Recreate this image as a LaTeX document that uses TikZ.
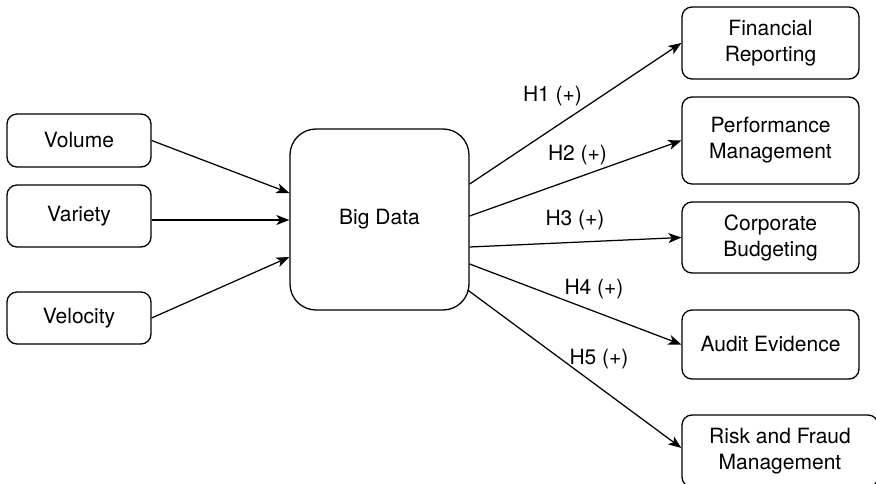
\documentclass[tikz,border=0pt]{standalone}
\usepackage{fontspec}
\setmainfont{TeX Gyre Heros}
\usetikzlibrary{arrows.meta,calc}
\begin{document}
\begin{tikzpicture}[x=1pt,y=-1pt,
  box/.style={draw, line width=1.3pt, rounded corners=10pt, inner sep=0pt,
    align=center, font=\fontsize{21}{26}\selectfont},
  link/.style={line width=1.25pt, -{Stealth[length=13pt,width=10pt,inset=3.5pt]}},
  hyp/.style={font=\fontsize{21}{26}\selectfont, inner sep=0pt}]
\useasboundingbox (0,0) rectangle (876,484);
\clip (0,0) rectangle (876,484);

% the three V's
\node[box, minimum width=144pt, minimum height=53pt] (vol) at (79,140.5) {Volume};
\node[box, minimum width=144pt, minimum height=62pt] (var) at (79,216) {Variety};
\node[box, minimum width=144pt, minimum height=52pt] (vel) at (79,318) {Velocity};

% central construct
\node[box, rounded corners=26pt, minimum width=179pt, minimum height=181pt] (bd) at (379.5,219.5) {Big Data};

% outcomes
\node[box, minimum width=177pt, minimum height=72pt] (fr) at (770.5,43) {Financial\\Reporting};
\node[box, minimum width=177pt, minimum height=87pt] (pm) at (770.5,140.5) {Performance\\Management};
\node[box, minimum width=177pt, minimum height=71pt] (cb) at (770.5,237.5) {Corporate\\Budgeting};
\node[box, minimum width=177pt, minimum height=69pt] (ae) at (770.5,344.5) {Audit Evidence};
\node[box, minimum width=196pt, minimum height=72pt] (rf) at (780,451) {Risk and Fraud\\Management};

% inputs
\draw[link] (vol.east) -- (bd.west |- 0,193);
\draw[link] (var.east |- 0,220) -- (bd.west |- 0,220);
\draw[link] (vel.east) -- (bd.west |- 0,257);

% hypotheses
\draw[link] (bd.east |- 0,184) -- (fr.west);
\draw[link] (bd.east |- 0,216) -- (pm.west);
\draw[link] (bd.east |- 0,247) -- (cb.west);
\draw[link] (bd.east |- 0,264) -- (ae.west);
\draw[link] ($(bd.east)+(-2,70.5)$) -- (rf.west |- 0,448);

\node[hyp] (h1) at (552.5,96) {H1 (+)};
\node[hyp] (h2) at (577.5,155) {H2 (+)};
\node[hyp] (h3) at (575,220) {H3 (+)};
\node[hyp] (h4) at (594,289) {H4 (+)};
\node[hyp] (h5) at (599,359) {H5 (+)};
\end{tikzpicture}
\end{document}
